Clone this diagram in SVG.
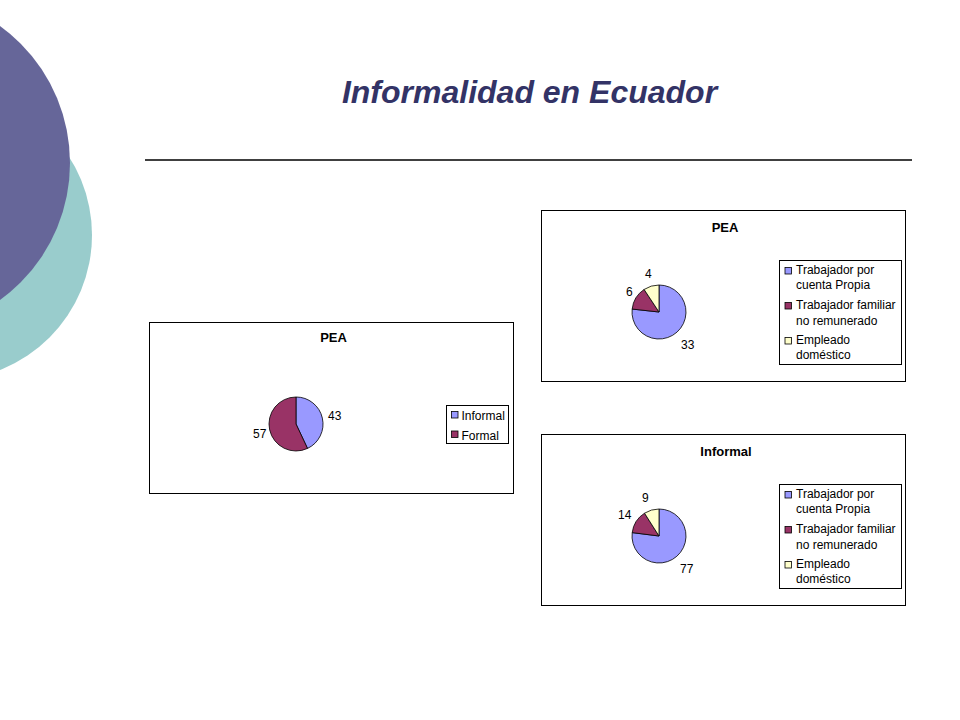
<svg xmlns="http://www.w3.org/2000/svg" width="960" height="720" viewBox="0 0 960 720">
<style>
.frame{fill:#fff;stroke:#000;stroke-width:1}
.legend{fill:#fff;stroke:#000;stroke-width:1}
.ct{font-family:"Liberation Sans",Arial,sans-serif;font-weight:bold;font-size:13px;fill:#000;text-anchor:middle}
.lb{font-family:"Liberation Sans",Arial,sans-serif;font-size:12px;fill:#000}
.s{stroke:#000;stroke-width:0.8}
.blue{fill:#9999FF}
.mar{fill:#993366}
.yel{fill:#FFFFCC}
.sw{stroke:#000;stroke-width:0.8}
</style>
<rect width="960" height="720" fill="#fff"/>
<g id="background">
<circle cx="-53" cy="235" r="145" fill="#99CCCC"/>
<circle cx="-99" cy="163" r="169" fill="#666699"/>
</g>
<g id="title">
<text x="529.5" y="103" font-family="'Liberation Sans',Arial,sans-serif" font-weight="bold" font-style="italic" font-size="32" fill="#333366" text-anchor="middle">Informalidad en Ecuador</text>
</g>
<g id="rule">
<line x1="145" y1="160" x2="912" y2="160" stroke="#000" stroke-width="1.3"/>
</g>
<g id="chart-pea-left">
<rect class="frame" x="149.5" y="322.5" width="364" height="171"/>
<text class="ct" x="333.5" y="342">PEA</text>
<path class="blue s" d="M296,424 L296,397 A27,27 0 0 1 307.5,448.43 Z"/>
<path class="mar s" d="M296,424 L307.5,448.43 A27,27 0 1 1 296,397 Z"/>
<text class="lb" x="328" y="420">43</text>
<text class="lb" x="253" y="438">57</text>
<rect class="legend" x="446.5" y="405.5" width="62" height="38"/>
<rect class="blue sw" x="451.5" y="411.5" width="6.5" height="6.5"/>
<text class="lb" x="461.5" y="420">Informal</text>
<rect class="mar sw" x="451.5" y="431" width="6.5" height="6.5"/>
<text class="lb" x="461.5" y="440">Formal</text>
</g>
<g id="chart-pea-right">
<rect class="frame" x="541.5" y="210.5" width="364" height="171"/>
<text class="ct" x="725" y="232">PEA</text>
<path class="blue s" d="M659,312 L659,285 A27,27 0 1 1 632.16,309.05 Z"/>
<path class="mar s" d="M659,312 L632.16,309.05 A27,27 0 0 1 644.1,289.48 Z"/>
<path class="yel s" d="M659,312 L644.1,289.48 A27,27 0 0 1 659,285 Z"/>
<text class="lb" x="645" y="278">4</text>
<text class="lb" x="626" y="296">6</text>
<text class="lb" x="681" y="349">33</text>
<rect class="legend" x="779.5" y="260.5" width="122" height="104"/>
<rect class="blue sw" x="785" y="267.5" width="6.5" height="6.5"/>
<text class="lb" x="796" y="274">Trabajador por</text>
<text class="lb" x="796" y="289">cuenta Propia</text>
<rect class="mar sw" x="785" y="302.5" width="6.5" height="6.5"/>
<text class="lb" x="796" y="309">Trabajador familiar</text>
<text class="lb" x="796" y="325">no remunerado</text>
<rect class="yel sw" x="785" y="337.5" width="6.5" height="6.5"/>
<text class="lb" x="796" y="344">Empleado</text>
<text class="lb" x="796" y="359">doméstico</text>
</g>
<g id="chart-informal">
<rect class="frame" x="541.5" y="434.5" width="364" height="171"/>
<text class="ct" x="726" y="456">Informal</text>
<path class="blue s" d="M659,536 L659,509 A27,27 0 1 1 632.21,532.62 Z"/>
<path class="mar s" d="M659,536 L632.21,532.62 A27,27 0 0 1 644.53,513.2 Z"/>
<path class="yel s" d="M659,536 L644.53,513.2 A27,27 0 0 1 659,509 Z"/>
<text class="lb" x="642" y="502">9</text>
<text class="lb" x="618" y="519">14</text>
<text class="lb" x="680" y="573">77</text>
<rect class="legend" x="779.5" y="484.5" width="122" height="104"/>
<rect class="blue sw" x="785" y="491.5" width="6.5" height="6.5"/>
<text class="lb" x="796" y="498">Trabajador por</text>
<text class="lb" x="796" y="513">cuenta Propia</text>
<rect class="mar sw" x="785" y="526.5" width="6.5" height="6.5"/>
<text class="lb" x="796" y="533">Trabajador familiar</text>
<text class="lb" x="796" y="549">no remunerado</text>
<rect class="yel sw" x="785" y="561.5" width="6.5" height="6.5"/>
<text class="lb" x="796" y="568">Empleado</text>
<text class="lb" x="796" y="583">doméstico</text>
</g>
</svg>
